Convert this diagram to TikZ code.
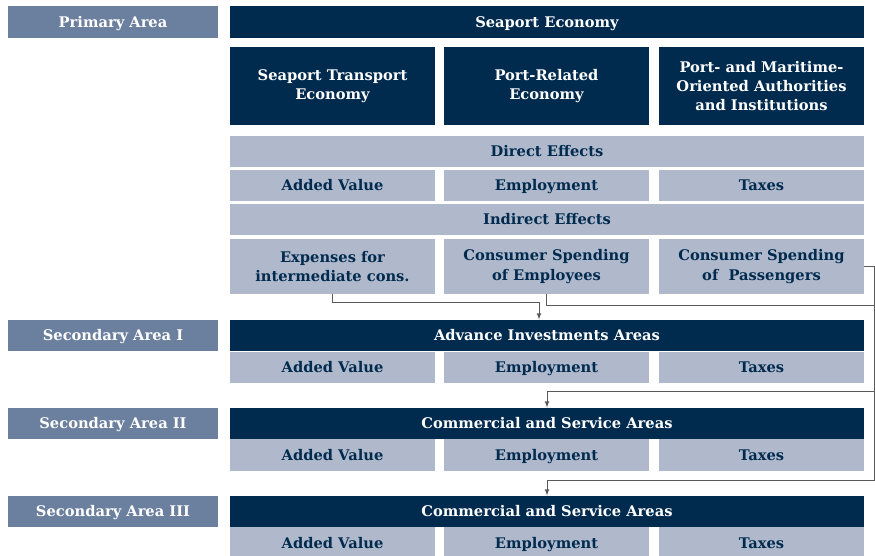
\documentclass[tikz,border=0pt]{standalone}
\usepackage{fontspec}
\setmainfont{DejaVu Serif}
\usetikzlibrary{calc}
\definecolor{navy}{HTML}{002A4E}
\definecolor{slate}{HTML}{6B7F9E}
\definecolor{pale}{HTML}{B0B9CC}
\definecolor{wire}{HTML}{5A5A5A}
\tikzset{
  box/.style={inner sep=0pt, align=center, font=\fontsize{11}{14.5}\selectfont\bfseries},
  oneline/.style={box, text height=9.5pt, text depth=1.5pt},
  area/.style={oneline, fill=slate, text=white, minimum width=157.5pt, minimum height=23.5pt},
  head/.style={oneline, fill=navy, text=white, minimum width=475.5pt, minimum height=23.5pt},
  tall/.style={box, fill=navy, text=white, minimum width=153.75pt, minimum height=58.5pt},
  band/.style={oneline, fill=pale, text=navy, minimum width=475.5pt, minimum height=23.5pt},
  cell/.style={oneline, fill=pale, text=navy, minimum width=153.75pt, minimum height=23.5pt},
  spend/.style={box, fill=pale, text=navy, minimum width=153.75pt, minimum height=41.25pt},
  conn/.style={wire, line width=0.6pt}
}
\begin{document}
\begin{tikzpicture}[x=0.75pt, y=-0.75pt, >=latex]
\useasboundingbox (0,0) rectangle (875,556);

% primary area
\node[area] (pa) at (113,22) {Primary Area};
\node[head] (se) at (547,22) {Seaport Economy};
\node[tall] (ste) at (332.5,86) {Seaport Transport\\Economy};
\node[tall] (pre) at (546.5,86) {Port-Related\\Economy};
\node[tall] (pma) at (761.5,86) {Port- and Maritime-\\Oriented Authorities\\and Institutions};

\node[band] (de) at (547,151.5) {Direct Effects};
\node[cell] (dav) at (332.5,185.5) {Added Value};
\node[cell] (dem) at (546.5,185.5) {Employment};
\node[cell] (dtx) at (761.5,185.5) {Taxes};

\node[band] (ie) at (547,219.5) {Indirect Effects};
\node[spend] (exp) at (332.5,266.5) {Expenses for\\intermediate cons.};
\node[spend] (emp) at (546.5,266.5) {Consumer Spending\\of Employees};
\node[spend] (pas) at (761.5,266.5) {Consumer Spending\\of~ Passengers};

% secondary areas
\node[area] (s1) at (113,335.5) {Secondary Area I};
\node[head] (adv) at (547,335.5) {Advance Investments Areas};
\node[cell] (av1) at (332.5,367.5) {Added Value};
\node[cell] (em1) at (546.5,367.5) {Employment};
\node[cell] (tx1) at (761.5,367.5) {Taxes};

\node[area] (s2) at (113,423.5) {Secondary Area II};
\node[head] (cs2) at (547,423.5) {Commercial and Service Areas};
\node[cell] (av2) at (332.5,455) {Added Value};
\node[cell] (em2) at (546.5,455) {Employment};
\node[cell] (tx2) at (761.5,455) {Taxes};

\node[area] (s3) at (113,511.5) {Secondary Area III};
\node[head] (cs3) at (547,511.5) {Commercial and Service Areas};
\node[cell] (av3) at (332.5,543) {Added Value};
\node[cell] (em3) at (546.5,543) {Employment};
\node[cell] (tx3) at (761.5,543) {Taxes};

% connectors
\coordinate (e1) at (874,305);
\coordinate (e2) at (874,391);
\coordinate (p2) at (874,480);
\draw[conn, ->] (exp.south) |- (539,302) -- ([xshift=-6pt]adv.north);
\draw[conn, ->] (emp.south) |- (e1) -- (e2) -| (cs2.north);
\draw[conn, ->] (pas.east) -| (p2) -| (cs3.north);
\end{tikzpicture}
\end{document}
